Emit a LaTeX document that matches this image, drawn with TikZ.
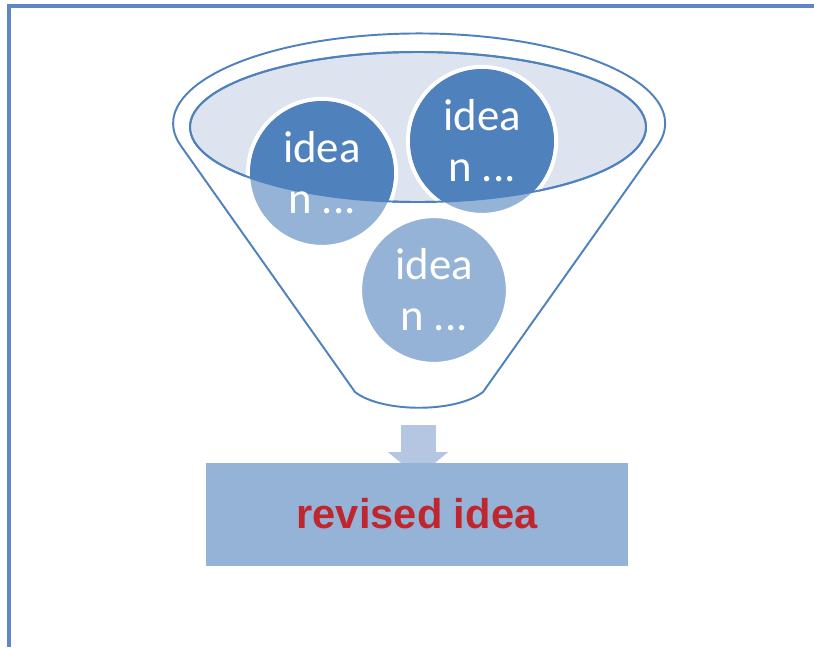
\documentclass[tikz,border=0pt]{standalone}
\usepackage{fontspec}
\usepackage{xcolor}
\usepackage{tikz}
\usetikzlibrary{arrows.meta}
\newfontfamily\ideafont{Carlito}
\newfontfamily\boxfont{Liberation Sans}
\definecolor{mydark}{RGB}{79,129,189}
\definecolor{mylight}{RGB}{149,179,215}
\definecolor{myrim}{RGB}{221,228,240}
\definecolor{myframe}{RGB}{95,135,200}
\definecolor{myarrow}{RGB}{180,198,226}
\definecolor{myred}{RGB}{192,38,45}
\tikzset{
  funnel/.style={draw=mydark, fill=white, line width=1.1pt},
  rim/.style={draw=mydark, fill=myrim, line width=1.1pt},
  ideaball/.style={circle, fill=mylight, draw=white, line width=2.4pt,
    minimum size=2.96cm, inner sep=0pt, align=center, text=white,
    font=\ideafont\fontsize{25.5}{29}\selectfont},
  ideatext/.style={align=center, text=white,
    font=\ideafont\fontsize{25.5}{29}\selectfont},
  outbox/.style={rectangle, fill=mylight, minimum width=8.46cm,
    minimum height=2.06cm, text=myred,
    font=\boxfont\bfseries\fontsize{23.7}{28}\selectfont},
  blockarrow/.style={-{Triangle[width=1.18cm, length=0.5cm]}, myarrow,
    line width=0.7cm}
}
\begin{document}
\begin{tikzpicture}[x=0.02cm, y=-0.02cm]
  \useasboundingbox (0,0) rectangle (814,647);

  % Frame on the left and top
  \draw[myframe, line width=2pt] (9,647) -- (9,6) -- (814,6);

  % Funnel body with its upper rim
  \draw[funnel] (181,146) arc[start angle=165.5, end angle=374.5,
      x radius=246, y radius=90]
    -- (483,392) .. controls (456,413) and (382,413) .. (355,392) -- cycle;
  \draw[rim] (418,127) ellipse[x radius=228, y radius=75];

  % Ideas poured into the funnel
  \node[ideaball] (ideaA) at (322,173) {};
  \node[ideaball] (ideaB) at (482,141) {};
  \node[ideaball] (ideaC) at (434,290) {idea\\n ...};

  % Parts of the balls inside the rim are darker
  \begin{scope}
    \clip (418,127) ellipse[x radius=228, y radius=75];
    \fill[mydark] (ideaA) circle[radius=72];
    \fill[mydark] (ideaB) circle[radius=72];
  \end{scope}
  \draw[draw=mydark, line width=1.1pt] (418,127) ellipse[x radius=228, y radius=75];

  \node[ideatext] at (ideaA) {idea\\n ...};
  \node[ideatext] at (ideaB) {idea\\n ...};

  % Outlet arrow and result
  \coordinate (neck) at (418,425);
  \coordinate (tip) at (418,477);
  \draw[blockarrow] (neck) -- (tip);
  \node[outbox] (revised) at (417,514) {revised idea};
\end{tikzpicture}
\end{document}
